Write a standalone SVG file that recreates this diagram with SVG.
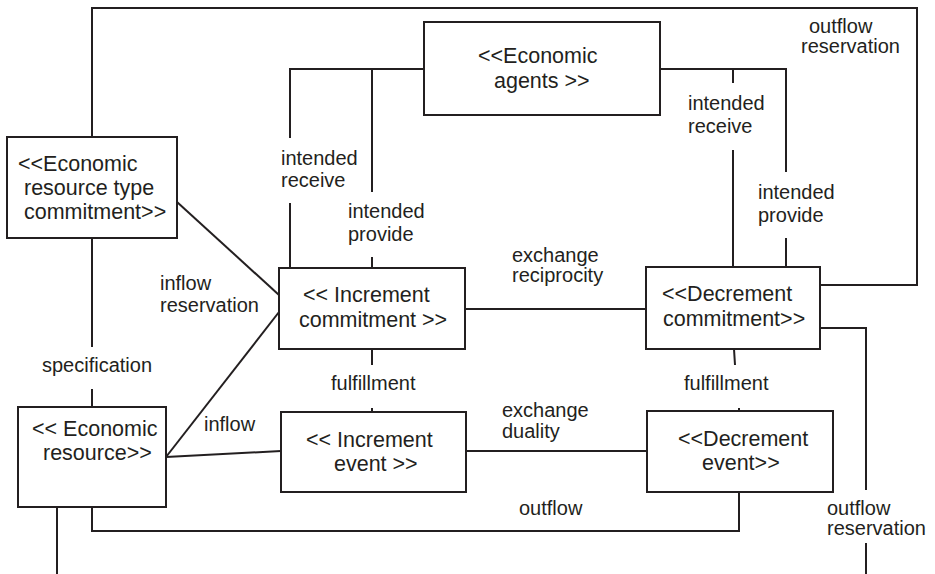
<svg xmlns="http://www.w3.org/2000/svg" width="935" height="574" viewBox="0 0 935 574">
<style>
.box{fill:#fff;stroke:#231f20;stroke-width:2}
.ln{fill:none;stroke:#231f20;stroke-width:2}
.bt{font-family:"Liberation Sans",Arial,sans-serif;font-size:21.5px;fill:#231f20}
.lb{font-family:"Liberation Sans",Arial,sans-serif;font-size:20px;fill:#231f20}
</style>
<rect width="935" height="574" fill="#fff"/>
<g id="connectors">
<path class="ln" d="M92,137 V8 H917 V285 H820"/>
<path class="ln" d="M424,69 H290 V138 M290,203 V268 M372,69 V192 M372,257 V268"/>
<path class="ln" d="M660,69 H786 V172 M786,238 V267 M733,69 V83 M733,150 V267"/>
<path class="ln" d="M92,238 V347 M92,389 V407"/>
<path class="ln" d="M177,202 L279,295"/>
<path class="ln" d="M166,457 L279,312"/>
<path class="ln" d="M166,457 L281,451"/>
<path class="ln" d="M465,309 H646"/>
<path class="ln" d="M372,349 V365 M372,408 V412"/>
<path class="ln" d="M734,349 L735,365 M739,408 V411"/>
<path class="ln" d="M466,451 H647"/>
<path class="ln" d="M92,507 V531 H739 V492"/>
<path class="ln" d="M57,507 V574"/>
<path class="ln" d="M820,328 H866 V490 M866,543 V574"/>
<text class="lb" x="281" y="165">intended</text>
<text class="lb" x="281" y="187">receive</text>
<text class="lb" x="348" y="218">intended</text>
<text class="lb" x="348" y="241">provide</text>
<text class="lb" x="688" y="110">intended</text>
<text class="lb" x="688" y="133">receive</text>
<text class="lb" x="758" y="199">intended</text>
<text class="lb" x="758" y="222">provide</text>
<text class="lb" x="809" y="33">outflow</text>
<text class="lb" x="801" y="53">reservation</text>
<text class="lb" x="512" y="262">exchange</text>
<text class="lb" x="512" y="282">reciprocity</text>
<text class="lb" x="160" y="290">inflow</text>
<text class="lb" x="160" y="312">reservation</text>
<text class="lb" x="42" y="372">specification</text>
<text class="lb" x="204" y="431">inflow</text>
<text class="lb" x="331" y="390">fulfillment</text>
<text class="lb" x="684" y="390">fulfillment</text>
<text class="lb" x="502" y="417">exchange</text>
<text class="lb" x="502" y="438">duality</text>
<text class="lb" x="519" y="515">outflow</text>
<text class="lb" x="827" y="515">outflow</text>
<text class="lb" x="827" y="535">reservation</text>
</g>
<g id="resource-type-commitment">
<rect class="box" x="7" y="137" width="170" height="101"/>
<text class="bt" x="18" y="171">&lt;&lt;Economic</text>
<text class="bt" x="24" y="195">resource type</text>
<text class="bt" x="24" y="219">commitment&gt;&gt;</text>
</g>
<g id="economic-agents">
<rect class="box" x="424" y="22" width="236" height="93"/>
<text class="bt" x="478" y="63">&lt;&lt;Economic</text>
<text class="bt" x="494" y="88">agents &gt;&gt;</text>
</g>
<g id="increment-commitment">
<rect class="box" x="279" y="268" width="186" height="81"/>
<text class="bt" x="303" y="302">&lt;&lt; Increment</text>
<text class="bt" x="299" y="327">commitment &gt;&gt;</text>
</g>
<g id="decrement-commitment">
<rect class="box" x="646" y="267" width="174" height="82"/>
<text class="bt" x="662" y="301">&lt;&lt;Decrement</text>
<text class="bt" x="663" y="326">commitment&gt;&gt;</text>
</g>
<g id="economic-resource">
<rect class="box" x="18" y="407" width="148" height="100"/>
<text class="bt" x="32" y="436">&lt;&lt; Economic</text>
<text class="bt" x="43" y="460">resource&gt;&gt;</text>
</g>
<g id="increment-event">
<rect class="box" x="281" y="412" width="185" height="80"/>
<text class="bt" x="306" y="447">&lt;&lt; Increment</text>
<text class="bt" x="334" y="471">event &gt;&gt;</text>
</g>
<g id="decrement-event">
<rect class="box" x="647" y="411" width="186" height="81"/>
<text class="bt" x="678" y="446">&lt;&lt;Decrement</text>
<text class="bt" x="702" y="470">event&gt;&gt;</text>
</g>
</svg>
